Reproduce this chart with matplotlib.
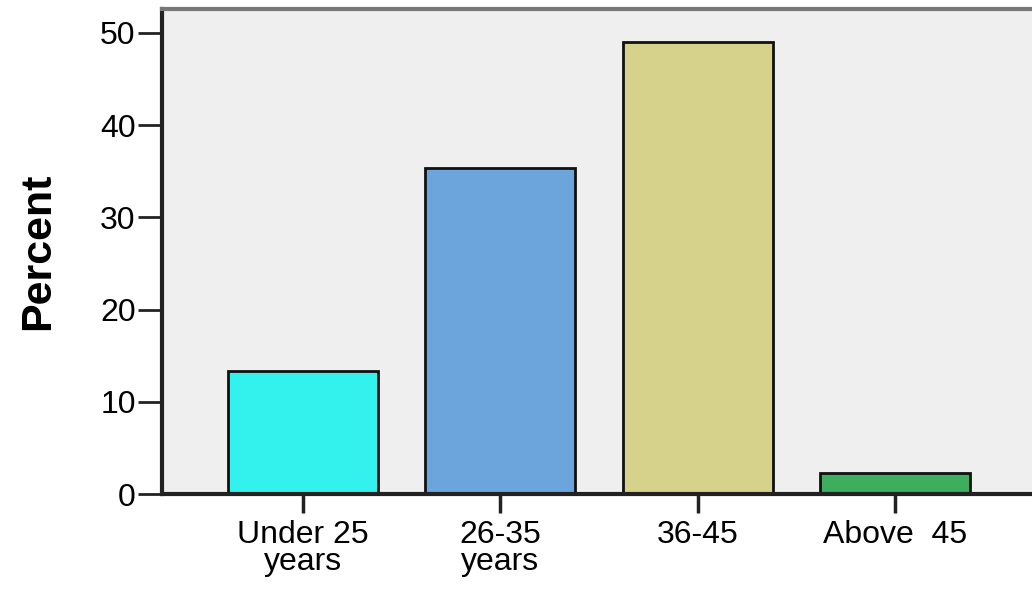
"""Age-group bar chart (percent of respondents)."""

import matplotlib
matplotlib.use("Agg")
import matplotlib.pyplot as plt

# Data
categories = ["Under 25\nyears", "26-35\nyears", "36-45", "Above  45"]
percents = [13.3, 35.4, 49.0, 2.3]
bar_colors = ["#33f2ee", "#6ca5dc", "#d6d28c", "#3cae5e"]
yticks = [0, 10, 20, 30, 40, 50]

plt.rcParams["font.family"] = ["Liberation Sans", "DejaVu Sans"]

fig = plt.figure(figsize=(10.32, 5.91), dpi=100)
fig.patch.set_facecolor("white")
ax = fig.add_axes([0.157, 0.164, 0.843, 0.821])
ax.set_facecolor("#efefef")

x = list(range(len(categories)))
ax.bar(x, percents, width=0.76, color=bar_colors,
       edgecolor="#111111", linewidth=2.0, zorder=2)

ax.set_xlim(-0.715, 3.695)
ax.set_ylim(0, 52.6)
ax.set_yticks(yticks)
ax.set_xticks(x)
ax.set_xticklabels(categories, fontsize=23, linespacing=0.85)
ax.tick_params(axis="y", labelsize=23, length=17, width=2, color="#222222", pad=2)
ax.tick_params(axis="x", length=14, width=2.5, color="#222222", pad=5)

ax.set_ylabel("Percent", fontsize=31, fontweight="bold", labelpad=30)

# Spines: dark left/bottom, gray top, right clipped off
ax.spines["left"].set_color("#222222")
ax.spines["left"].set_linewidth(3)
ax.spines["bottom"].set_color("#222222")
ax.spines["bottom"].set_linewidth(3)
ax.spines["top"].set_color("#777777")
ax.spines["top"].set_linewidth(3)
ax.spines["right"].set_visible(False)

fig.savefig("out.png", dpi=100, facecolor=fig.get_facecolor())
plt.close(fig)
